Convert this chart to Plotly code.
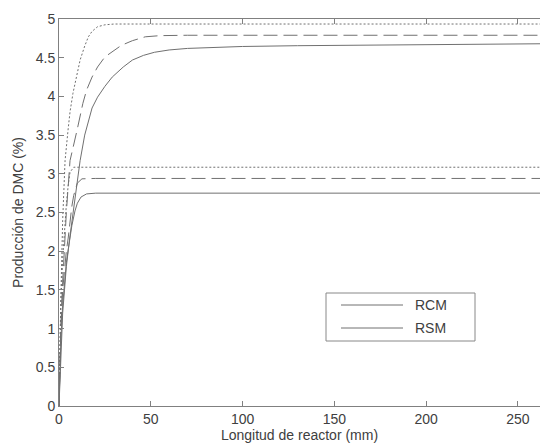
import plotly.graph_objects as go

# RCM curves (solid, dashed, dotted)
rcm_solid_x = [0, 1, 2, 3, 4, 6, 8, 10, 11.5, 14, 16, 18, 21, 25, 29, 35, 40, 46, 52, 60, 70, 85, 100, 130, 170, 262]
rcm_solid_y = [0, 0.7, 1.2, 1.5, 1.8, 2.2, 2.55, 2.9, 3.17, 3.5, 3.69, 3.85, 3.99, 4.13, 4.25, 4.38, 4.47, 4.53, 4.57, 4.6, 4.62, 4.635, 4.645, 4.655, 4.665, 4.68]

rcm_dash_x = [0, 0.5, 1, 2, 3, 4, 6, 8, 9.8, 13, 15, 18, 21, 25, 30, 34, 40, 47, 55, 70, 262]
rcm_dash_y = [0, 0.6, 1.0, 1.6, 2.1, 2.5, 3.17, 3.4, 3.56, 3.91, 4.08, 4.25, 4.38, 4.51, 4.6, 4.66, 4.72, 4.77, 4.785, 4.79, 4.79]

rcm_dot_x = [0, 0.5, 1, 2, 3.3, 4.9, 6, 7.6, 9.5, 11.5, 14, 16, 18, 21, 25, 30, 262]
rcm_dot_y = [0, 0.8, 1.4, 2.4, 3.17, 3.56, 3.8, 4.04, 4.27, 4.47, 4.65, 4.77, 4.84, 4.9, 4.925, 4.935, 4.935]

# RSM curves (solid, dashed, dotted)
rsm_solid_x = [0, 0.5, 1, 2, 3, 4, 5, 6, 7, 8.7, 10, 12, 15, 20, 262]
rsm_solid_y = [0, 0.45, 0.85, 1.3, 1.6, 1.85, 2.02, 2.17, 2.33, 2.52, 2.62, 2.7, 2.74, 2.75, 2.75]

rsm_dash_x = [0, 0.5, 1, 2, 3, 4, 5, 6, 7, 8, 10, 12.5, 20, 262]
rsm_dash_y = [0, 0.6, 1.0, 1.5, 1.8, 2.0, 2.17, 2.4, 2.58, 2.72, 2.88, 2.935, 2.94, 2.94]

rsm_dot_x = [0, 0.5, 1, 2, 3, 4, 5, 6, 8, 262]
rsm_dot_y = [0, 0.8, 1.3, 1.9, 2.3, 2.6, 2.85, 3.02, 3.085, 3.085]

x_ticks = [0, 50, 100, 150, 200, 250]
y_ticks = [0, 0.5, 1, 1.5, 2, 2.5, 3, 3.5, 4, 4.5, 5]
y_tick_text = ["0", "0.5", "1", "1.5", "2", "2.5", "3", "3.5", "4", "4.5", "5"]
legend_names = ["RCM", "RSM"]

line_col = "#707070"
axis_col = "#808080"
text_col = "#404040"
font_fam = "Liberation Sans, Arial, sans-serif"

fig = go.Figure()

def add(x, y, dash, name):
    fig.add_trace(go.Scatter(x=x, y=y, mode="lines", name=name, showlegend=False,
                             line=dict(color=line_col, width=1, dash=dash)))

add(rcm_solid_x, rcm_solid_y, "solid", "RCM")
add(rcm_dash_x, rcm_dash_y, "14px,6px", "RCM")
add(rcm_dot_x, rcm_dot_y, "2px,2px", "RCM")
add(rsm_solid_x, rsm_solid_y, "solid", "RSM")
add(rsm_dash_x, rsm_dash_y, "14px,6px", "RSM")
add(rsm_dot_x, rsm_dot_y, "2px,2px", "RSM")

# Legend drawn as a MATLAB-style box (pixel placement converted to paper coords)
W, H = 540, 443
ml, mr, mt, mb = 59, 0, 19, 37
pw, ph = W - ml - mr, H - mt - mb

def px(xp):
    return (xp - ml) / pw

def py(yp):
    return (H - mb - yp) / ph

shapes = [dict(type="rect", xref="paper", yref="paper",
               x0=px(326), x1=px(475), y0=py(341), y1=py(293),
               line=dict(color="#888888", width=1), fillcolor="white", layer="above")]
annotations = []
for i, nm in enumerate(legend_names):
    yy = 305 + i * 23
    shapes.append(dict(type="line", xref="paper", yref="paper",
                       x0=px(341), x1=px(403), y0=py(yy), y1=py(yy),
                       line=dict(color=line_col, width=1), layer="above"))
    annotations.append(dict(xref="paper", yref="paper", x=px(413), y=py(yy),
                            xanchor="left", yanchor="middle", text=nm, showarrow=False,
                            font=dict(size=14, color=text_col, family=font_fam)))

fig.update_layout(
    width=W, height=H,
    margin=dict(l=ml, r=mr, t=mt, b=mb),
    paper_bgcolor="white", plot_bgcolor="white",
    font=dict(family=font_fam, size=14, color=text_col),
    showlegend=False,
    shapes=shapes, annotations=annotations,
)
fig.update_xaxes(range=[0, 262.0], tickvals=x_ticks, ticks="inside", ticklen=5,
                 tickcolor=axis_col, showline=True, linecolor=axis_col, linewidth=1,
                 mirror="ticks", showgrid=False, zeroline=False, automargin=False,
                 title=dict(text="Longitud de reactor (mm)", standoff=3,
                            font=dict(size=14)),
                 tickfont=dict(size=14))
fig.update_yaxes(range=[0, 5], tickvals=y_ticks, ticktext=y_tick_text,
                 ticks="inside", ticklen=5, tickcolor=axis_col,
                 showline=True, linecolor=axis_col, linewidth=1,
                 showgrid=False, zeroline=False, automargin=False,
                 title=dict(text="Producción de DMC (%)", standoff=8,
                            font=dict(size=14)),
                 tickfont=dict(size=14))

fig.write_html("out.html", config={"displayModeBar": False},
               post_script="document.body.style.margin='0';document.body.style.overflow='hidden';")
